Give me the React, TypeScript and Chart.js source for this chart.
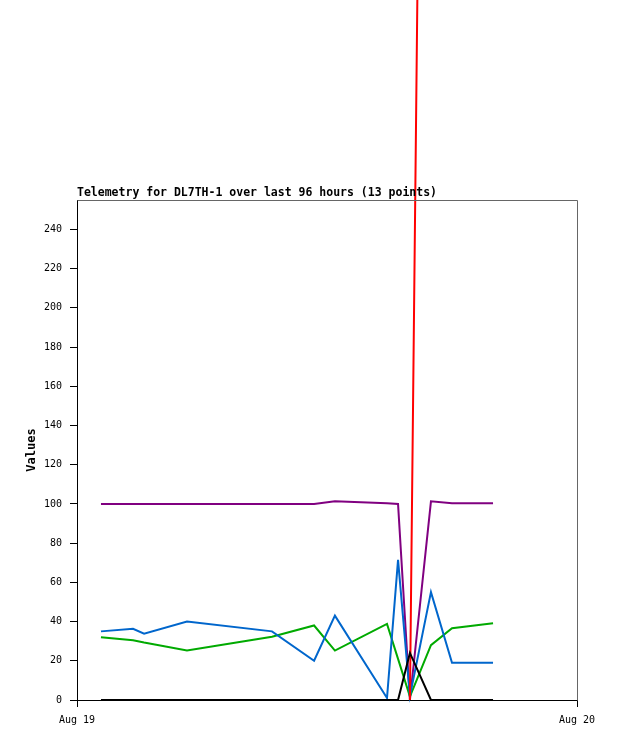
import React, { useEffect, useRef } from "react";
import { Chart, registerables } from "chart.js";

Chart.register(...registerables);

// Hours after Aug 19 00:00
const times = [1.15, 2.69, 3.22, 5.28, 9.36, 11.38, 12.38, 14.88, 15.41, 15.98, 16.99, 18.0, 19.97];
const purpleValues = [100, 100, 100, 100, 100, 100, 101.3, 100.3, 100, 0, 101.3, 100.3, 100.3];
const greenValues = [32, 30.5, 29.3, 25.2, 32.3, 38, 25.2, 38.8, 21, 1.7, 28, 36.6, 39.2];
const blueValues = [35, 36.3, 33.8, 40, 35, 20, 43, 1, 71.5, 2, 55, 19, 19];
const redValues: (number | null)[] = [null, null, null, null, null, null, null, null, null, 0, 1013, 1013, 1013];
const blackValues = [0, 0, 0, 0, 0, 0, 0, 0, 0, 24, 0, 0, 0];
const xTickLabels = ["Aug 19", "Aug 20"];
const titleText = "Telemetry for DL7TH-1 over last 96 hours (13 points)";
const yTitle = "Values";

const MONO = '"DejaVu Sans Mono", "Liberation Mono", monospace';

function pts(vals: (number | null)[]) {
  return vals.map((v, i) => ({ x: times[i], y: v }));
}

const framePlugin = {
  id: "frame",
  afterDraw(chart: any) {
    const { ctx, chartArea } = chart;
    const { left, right, top, bottom } = chartArea;
    ctx.save();
    ctx.lineWidth = 1;
    ctx.strokeStyle = "#666666";
    ctx.beginPath();
    ctx.moveTo(left + 0.5, top + 0.5);
    ctx.lineTo(right + 0.5, top + 0.5);
    ctx.lineTo(right + 0.5, bottom + 0.5);
    ctx.stroke();
    ctx.fillStyle = "#000";
    ctx.font = "bold 11.5px " + MONO;
    ctx.textAlign = "left";
    ctx.textBaseline = "alphabetic";
    ctx.fillText(titleText, left, top - 4);
    ctx.translate(32, (top + bottom) / 2);
    ctx.rotate(-Math.PI / 2);
    ctx.font = "bold 12px " + MONO;
    ctx.textAlign = "center";
    ctx.textBaseline = "middle";
    ctx.fillText(yTitle, 0, 0);
    ctx.restore();
  },
};

export default function App() {
  const ref = useRef<HTMLCanvasElement | null>(null);
  useEffect(() => {
    if (!ref.current) return;
    const common = { borderWidth: 2, pointRadius: 0, tension: 0, clip: false as any, spanGaps: false };
    const chart = new Chart(ref.current, {
      type: "line",
      data: {
        datasets: [
          { ...common, label: "black", data: pts(blackValues), borderColor: "#000000" },
          { ...common, label: "red", data: pts(redValues), borderColor: "#ff0000" },
          { ...common, label: "blue", data: pts(blueValues), borderColor: "#0066cc" },
          { ...common, label: "green", data: pts(greenValues), borderColor: "#00aa00" },
          { ...common, label: "purple", data: pts(purpleValues), borderColor: "#800080" },
        ],
      },
      options: {
        animation: false,
        responsive: false,
        devicePixelRatio: 1,
        layout: { padding: { left: 0, right: 41, top: 200, bottom: 0 } },
        plugins: { legend: { display: false }, tooltip: { enabled: false }, title: { display: false } },
        scales: {
          x: {
            type: "linear",
            min: 0,
            max: 24,
            afterFit: (s: any) => { s.height = 41; },
            ticks: {
              stepSize: 24,
              autoSkip: false,
              maxRotation: 0,
              padding: 7,
              color: "#000",
              font: { family: MONO, size: 10 },
              callback: (v: any) => (v === 0 ? xTickLabels[0] : v === 24 ? xTickLabels[1] : ""),
            },
            grid: { display: true, drawOnChartArea: false, drawTicks: true, tickLength: 7, color: "#000" },
            border: { display: true, color: "#000" },
          },
          y: {
            type: "linear",
            min: 0,
            max: 255,
            afterFit: (s: any) => { s.width = 77; },
            ticks: {
              stepSize: 20,
              includeBounds: false,
              padding: 8,
              color: "#000",
              font: { family: MONO, size: 10 },
            },
            grid: { display: true, drawOnChartArea: false, drawTicks: true, tickLength: 7, color: "#000" },
            border: { display: true, color: "#000" },
          },
        },
      },
      plugins: [framePlugin],
    });
    return () => chart.destroy();
  }, []);
  return (
    <div style={{ position: "fixed", left: 0, top: 0, width: 618, height: 741, background: "#fff" }}>
      <canvas ref={ref} width={618} height={741} style={{ display: "block", width: 618, height: 741 }} />
    </div>
  );
}
